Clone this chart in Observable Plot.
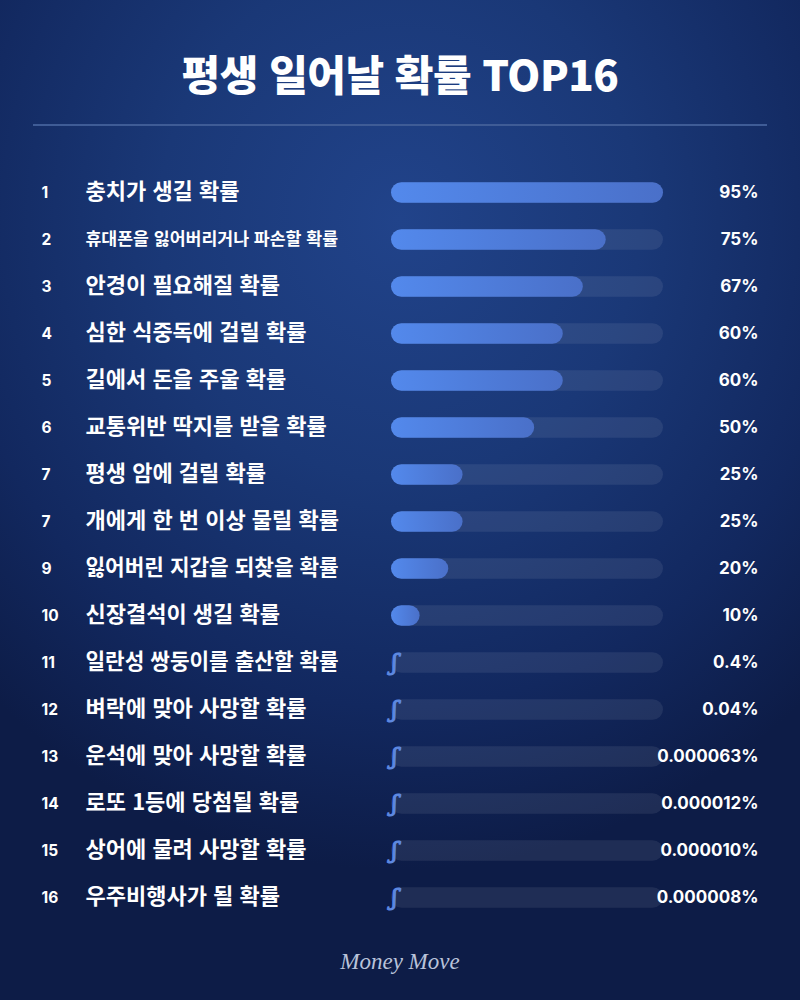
<!DOCTYPE html>
<html lang="ko">
<head>
<meta charset="utf-8">
<script src="https://cdn.jsdelivr.net/npm/d3@7"></script>
<script src="https://cdn.jsdelivr.net/npm/@observablehq/plot@0.6"></script>
<style>
  html, body { margin: 0; padding: 0; }
  body {
    width: 800px; height: 1000px; position: relative; overflow: hidden;
    background: radial-gradient(ellipse 75% 65% at 50% 22%, #21438a 0%, #1a3877 40%, #12285f 75%, #0d1c47 100%);
    font-family: "Noto Sans CJK KR", "Noto Sans", sans-serif;
  }
  #title {
    position: absolute; left: 0; width: 800px; top: 46px; text-align: center;
    color: #fff; font-size: 42px; font-weight: 900; line-height: 54px; letter-spacing: -0.5px;
  }
  #rule {
    position: absolute; left: 33px; width: 734px; top: 124px; height: 1.5px;
    background: #3f5c96;
  }
  #chart { position: absolute; left: 0; top: 165px; }
  #caption {
    position: absolute; left: 0; width: 800px; top: 946px; text-align: center;
    color: #b9c3da; font-family: "Liberation Serif", "DejaVu Serif", serif;
    font-style: italic; font-size: 23px; line-height: 32px;
  }
</style>
</head>
<body>
<div id="title">평생 일어날 확률 TOP16</div>
<div id="rule"></div>
<div id="chart"></div>
<div id="caption">Money Move</div>
<script>
const ranks = ["1","2","3","4","5","6","7","7","9","10","11","12","13","14","15","16"];
const labels = [
  "충치가 생길 확률",
  "휴대폰을 잃어버리거나 파손할 확률",
  "안경이 필요해질 확률",
  "심한 식중독에 걸릴 확률",
  "길에서 돈을 주울 확률",
  "교통위반 딱지를 받을 확률",
  "평생 암에 걸릴 확률",
  "개에게 한 번 이상 물릴 확률",
  "잃어버린 지갑을 되찾을 확률",
  "신장결석이 생길 확률",
  "일란성 쌍둥이를 출산할 확률",
  "벼락에 맞아 사망할 확률",
  "운석에 맞아 사망할 확률",
  "로또 1등에 당첨될 확률",
  "상어에 물려 사망할 확률",
  "우주비행사가 될 확률"
];
const values = [95, 75, 67, 60, 60, 50, 25, 25, 20, 10, 0.4, 0.04, 0.000063, 0.000012, 0.000010, 0.000008];
const valueLabels = ["95%","75%","67%","60%","60%","50%","25%","25%","20%","10%","0.4%","0.04%","0.000063%","0.000012%","0.000010%","0.000008%"];

const rows = labels.map((label, i) => ({rank: ranks[i], label, value: values[i], text: valueLabels[i]}));
const xMax = d3.max(values);

// fit long labels into the label column
const ctx = document.createElement("canvas").getContext("2d");
const baseSize = 22, maxWidth = 250;
function fitSize(s) {
  ctx.font = `700 ${baseSize}px "Noto Sans CJK KR"`;
  const w = ctx.measureText(s).width;
  return w > maxWidth ? baseSize * maxWidth / w : baseSize;
}

const step = 47.5, barH = 21, inset = (step - barH) / 2;

const defs = () => {
  const g = d3.create("svg:defs");
  const lg = g.append("linearGradient").attr("id", "barGrad").attr("x1", "0").attr("x2", "1").attr("y1", "0").attr("y2", "0");
  lg.append("stop").attr("offset", "0%").attr("stop-color", "#5389ec");
  lg.append("stop").attr("offset", "100%").attr("stop-color", "#4a70c9");
  return g.node();
};

const plot = Plot.plot({
  width: 800,
  height: step * labels.length,
  marginLeft: 391,
  marginRight: 137,
  marginTop: 0,
  marginBottom: 0,
  style: {background: "transparent", overflow: "visible"},
  x: {domain: [0, xMax], axis: null},
  y: {domain: labels, axis: null, padding: 0},
  marks: [
    defs,
    // track
    Plot.barX(rows, {x1: 0, x2: () => xMax, y: "label", fill: "#ffffff", fillOpacity: 0.08, insetTop: inset, insetBottom: inset, rx: barH / 2}),
    // filled bars
    Plot.barX(rows.filter(d => d.value >= 1), {x1: 0, x2: "value", y: "label", fill: "url(#barGrad)", insetTop: inset, insetBottom: inset, rx: barH / 2}),
    // sliver for near-zero values
    Plot.text(rows.filter(d => d.value < 1), {y: "label", frameAnchor: "left", text: () => "ʃ", dx: 3, dy: 0, fill: "#5d88e0", stroke: "#5d88e0", strokeWidth: 1.2, fontSize: 22, fontStyle: "italic", fontFamily: "DejaVu Serif", textAnchor: "middle", lineAnchor: "middle"}),
    // rank
    Plot.text(rows, {y: "label", frameAnchor: "left", text: "rank", dx: -350, textAnchor: "start", fill: "#ffffff", fontSize: 15.5, fontWeight: 700, fontFamily: "Inter", lineAnchor: "middle"}),
    // label
    Plot.text(rows, {y: "label", frameAnchor: "left", text: "label", dx: -306, textAnchor: "start", fill: "#ffffff", fontSize: d => fitSize(d.label), fontWeight: 700, fontFamily: "Noto Sans CJK KR", lineAnchor: "middle", dy: -1}),
    // value
    Plot.text(rows, {y: "label", frameAnchor: "right", text: "text", dx: 95, textAnchor: "end", fill: "#ffffff", fontSize: 17, fontWeight: 700, fontFamily: "Inter", lineAnchor: "middle"})
  ]
});
document.getElementById("chart").appendChild(plot);
</script>
</body>
</html>
